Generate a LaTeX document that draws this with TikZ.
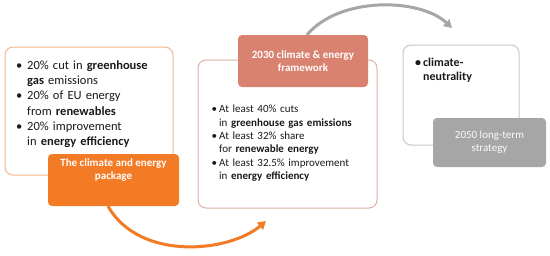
\documentclass[tikz,border=0pt]{standalone}
\usepackage{fontspec}
\setmainfont{Carlito}
\usetikzlibrary{arrows.meta,backgrounds}
\definecolor{orangeA}{HTML}{F47B25}
\definecolor{orangeB}{HTML}{F5B78E}
\definecolor{rustA}{HTML}{D9826F}
\definecolor{rustB}{HTML}{DDB0A6}
\definecolor{greyA}{HTML}{A6A6A6}
\definecolor{greyB}{HTML}{C8C8C8}
\definecolor{txt}{HTML}{1A1A1A}
\newcommand\bul[2]{\par\hangindent=#1\hangafter=1\noindent\makebox[#1][l]{\textbullet}#2\par}
\tikzset{
  panel/.style={draw, line width=1pt, fill=white, rounded corners=8pt, inner sep=0pt},
  headbox/.style={rounded corners=4pt, inner sep=0pt, text=white, align=center},
  listtext/.style={anchor=north west, inner sep=0pt, text=txt},
  arr/.style={line width=3pt, -{Triangle[length=8pt,width=9pt]}},
}
\begin{document}
\begin{tikzpicture}[x=1pt,y=-1pt]
\begin{pgfonlayer}{background}
\fill[white] (0,0) rectangle (550,255);
\end{pgfonlayer}
\useasboundingbox (0,0) rectangle (550,255);
% stage 1
\node[panel, draw=orangeB, minimum width=168pt, minimum height=128pt] (b1) at (89,111) {};
\node[listtext, text width=150pt, font=\fontsize{12.5}{15.2}\selectfont] (t1) at (16,54)
 {\raggedright\bul{11pt}{20\% cut in \textbf{greenhouse}\newline\textbf{gas} emissions}\bul{11pt}{20\% of EU energy\newline from \textbf{renewables}}\bul{11pt}{20\% improvement\newline in \textbf{energy efficiency}}};
\node[headbox, fill=orangeA, minimum width=131pt, minimum height=52pt] (h1) at (113.5,180) {};
\node[text=white, align=center, inner sep=0pt, font=\fontsize{11}{13}\selectfont\bfseries, anchor=north] (l1) at (113.5,159) {The climate and energy\\package};
% stage 2
\node[panel, draw=rustB, minimum width=179pt, minimum height=148pt] (b2) at (287.5,134) {};
\node[headbox, fill=rustA, minimum width=130pt, minimum height=52pt, font=\fontsize{11}{13}\selectfont\bfseries] (h2) at (303,61) {2030 climate \& energy\\framework};
\node[listtext, text width=165pt, font=\fontsize{11}{13.4}\selectfont] (t2) at (211.5,99)
 {\raggedright\bul{7.5pt}{At least 40\% cuts\newline in \textbf{greenhouse gas emissions}}\bul{7.5pt}{At least 32\% share\newline for \textbf{renewable energy}}\bul{7.5pt}{At least 32.5\% improvement\newline in \textbf{energy efficiency}}};
% stage 3
\node[panel, draw=greyB, minimum width=116pt, minimum height=100pt] (b3) at (461,95) {};
\node[listtext, text width=100pt, font=\fontsize{12}{14}\selectfont\bfseries] (t3) at (415,52)
 {\raggedright\bul{8pt}{climate-\newline neutrality}};
\node[headbox, fill=greyA, text=white!95!greyA, minimum width=113pt, minimum height=49pt, font=\fontsize{11}{13}\selectfont] (h3) at (489.5,142.5) {2050 long-term\\strategy};
% arrows
\coordinate (e1) at (266,221);
\coordinate (e2) at (452,28);
\draw[orangeA, arr] ([xshift=-5.5pt]h1.south) .. controls (140,262) and (230,252) .. (e1);
\begin{pgfonlayer}{background}
\draw[greyA, arr] ([xshift=4pt]h2.north) .. controls (340,-4) and (420,-2) .. (e2);
\end{pgfonlayer}
\end{tikzpicture}
\end{document}
